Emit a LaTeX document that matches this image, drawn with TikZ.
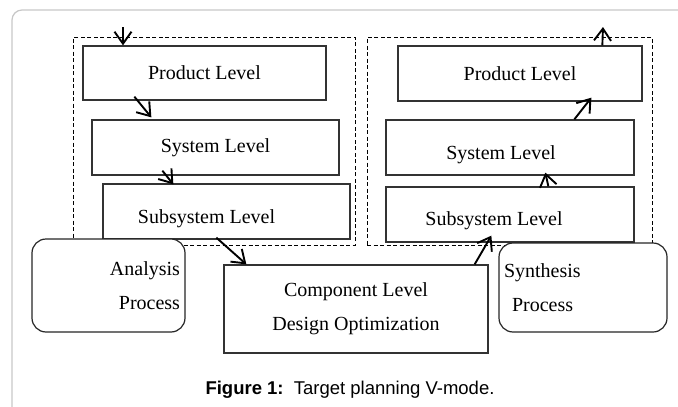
\documentclass[tikz,border=0pt]{standalone}
\usepackage{fontspec}
\setmainfont{Liberation Serif}
\newfontfamily\capfont{Liberation Sans}
\usepackage{tikz}
\usetikzlibrary{arrows.meta}
\tikzset{
  Ebene/.style={draw=black!80, line width=1.3pt, fill=white, rectangle, inner sep=0pt}, % Ebenen-Kaesten
  Gruppe/.style={draw, line width=.8pt, dash pattern=on 4pt off 2.5pt, inner sep=0pt}, % gestrichelte Gruppen
  Prozess/.style={draw=black!85, line width=1.2pt, fill=white, rounded corners=14pt, inner sep=5pt},
  Pfeil/.style={line width=1.9pt, ->} % Pfeile
}

\begin{document}
\begin{tikzpicture}[x=1pt, y=-1pt,
font=\fontsize{20}{34}\selectfont,
>={Straight Barb[length=12pt,width=17pt]} % Pfeilspitzen
]
\path[use as bounding box] (0,0) rectangle (678,407);
\clip (0,0) rectangle (678,407);

%Rahmen
\draw[black!22, line width=1.2pt, rounded corners=10pt] (12,460) -- (12,10) -- (730,10);

%Gruppen
\node[Gruppe, minimum width=282pt, minimum height=208pt] (GA) at (214,141) {};
\node[Gruppe, minimum width=285pt, minimum height=208pt] (GS) at (509.5,141) {};

%Ebenen links
\node[Ebene, minimum width=243pt, minimum height=54pt] (PL1) at (204.5,73) {Product Level};
\node[Ebene, minimum width=247pt, minimum height=55pt] (SL1) at (215.5,147.5) {System Level};
\node[Ebene, minimum width=247pt, minimum height=55pt,
  label={[xshift=-20pt,yshift=-7pt]center:Subsystem Level}] (SSL1) at (226.5,211.5) {};

%Ebenen rechts
\node[Ebene, minimum width=244pt, minimum height=55pt] (PL2) at (520,73.5) {Product Level};
\node[Ebene, minimum width=248pt, minimum height=55pt,
  label={[xshift=-9pt,yshift=-7pt]center:System Level}] (SL2) at (510,147.5) {};
\node[Ebene, minimum width=248pt, minimum height=55pt,
  label={[xshift=-16pt,yshift=-6pt]center:Subsystem Level}] (SSL2) at (510,214.5) {};

%Komponente
\node[Ebene, minimum width=264pt, minimum height=88pt, align=center] (KE) at (356,309)
  {Component Level\\Design Optimization};

%Prozesse
\node[Prozess, minimum width=153pt, minimum height=93pt, text width=143pt, align=right]
  (AP) at (108.5,285.5) {Analysis\\Process};
\node[Prozess, minimum width=168pt, minimum height=89pt, text width=158pt, align=left]
  (SP) at (583,287.5) {Synthesis\\\hspace*{8pt}Process};

%Pfeile
\coordinate (EinL) at (123,27);
\coordinate (AusS) at (603,27);
\draw[Pfeil] (EinL) -- (EinL |- PL1.north);
\draw[Pfeil] ([xshift=52pt,yshift=4pt]PL1.south west) -- ([xshift=60pt,yshift=2pt]SL1.north west);
\draw[Pfeil] ([xshift=71pt,yshift=5pt]SL1.south west) -- ([xshift=71pt,yshift=-1pt]SSL1.north west);
\draw[Pfeil] ([xshift=114pt,yshift=2pt]SSL1.south west) -- ([xshift=23pt]KE.north west);
\draw[Pfeil] ([xshift=-14pt]KE.north east) -- ([xshift=106pt,yshift=7pt]SSL2.south west);
\draw[Pfeil] ([xshift=163pt]SSL2.north west) -- ([xshift=160pt,yshift=3pt]SL2.south west);
\draw[Pfeil] ([xshift=189pt]SL2.north west) -- ([xshift=194pt,yshift=4pt]PL2.south west);
\draw[Pfeil] ([xshift=205pt]PL2.north west) -- (AusS);

%Bildunterschrift
\node[font=\capfont\fontsize{18.5}{22}\selectfont] (Cap) at (350,390)
  {\textbf{Figure 1:}\ \ Target planning V-mode.};

\end{tikzpicture}
\end{document}
